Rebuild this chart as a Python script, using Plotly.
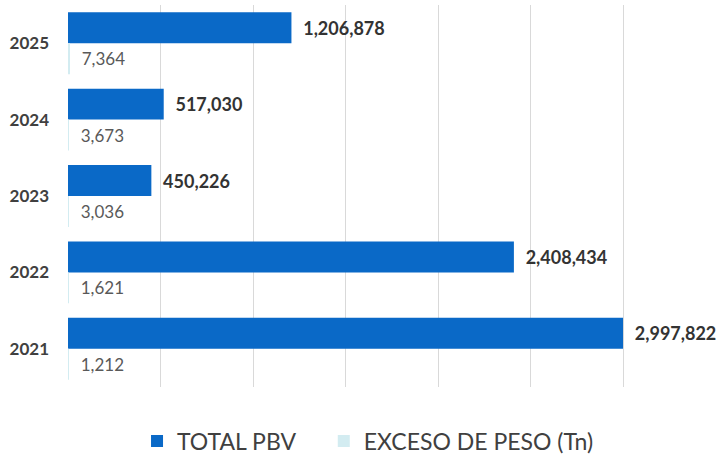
import plotly.graph_objects as go

years = ["2025", "2024", "2023", "2022", "2021"]
total_pbv = [1206878, 517030, 450226, 2408434, 2997822]
exceso_peso = [7364, 3673, 3036, 1621, 1212]

NBSP = "\u00a0"

fig = go.Figure()

fig.add_trace(
    go.Bar(
        name="TOTAL PBV" + NBSP * 4,
        y=years,
        x=total_pbv,
        orientation="h",
        marker_color="#0A69C7",
        marker_line_width=0,
        text=[NBSP * 2 + f"{v:,}" for v in total_pbv],
        textposition="outside",
        textfont=dict(family="Lato", size=18, color="#333333", weight="bold"),
        cliponaxis=False,
        hoverinfo="skip",
    )
)

fig.add_trace(
    go.Bar(
        name="EXCESO DE PESO (Tn)",
        y=years,
        x=exceso_peso,
        orientation="h",
        marker_color="#D3ECF1",
        marker_line_width=0,
        text=[NBSP * 2 + f"{v:,}" for v in exceso_peso],
        textposition="outside",
        textfont=dict(family="Lato", size=17, color="#595959"),
        cliponaxis=False,
        hoverinfo="skip",
    )
)

fig.update_layout(
    width=719,
    height=456,
    margin=dict(l=68, r=3, t=5, b=69),
    barmode="group",
    bargap=0.19,
    bargroupgap=0,
    plot_bgcolor="white",
    paper_bgcolor="white",
    font=dict(family="Lato", color="#404040"),
    xaxis=dict(
        range=[0, 3500000],
        dtick=500000,
        showticklabels=False,
        showgrid=True,
        gridcolor="#D9D9D9",
        gridwidth=1,
        zeroline=False,
        showline=False,
        automargin=False,
        fixedrange=True,
    ),
    yaxis=dict(
        categoryorder="array",
        categoryarray=years,
        autorange="reversed",
        showgrid=False,
        showline=False,
        ticks="",
        ticklabelstandoff=18,
        tickfont=dict(family="Lato", size=17, color="#404040", weight="bold"),
        automargin=False,
        fixedrange=True,
    ),
    legend=dict(
        orientation="h",
        x=0.463,
        xanchor="center",
        yref="container",
        y=0.033,
        yanchor="middle",
        font=dict(family="Lato", size=23, color="#404040"),
        itemwidth=30,
    ),
)

# the page body has an 8px default margin; drop it so the figure sits at 0,0
fig.write_html(
    "out.html",
    config={"displayModeBar": False},
    post_script="document.body.style.margin='0';",
)
